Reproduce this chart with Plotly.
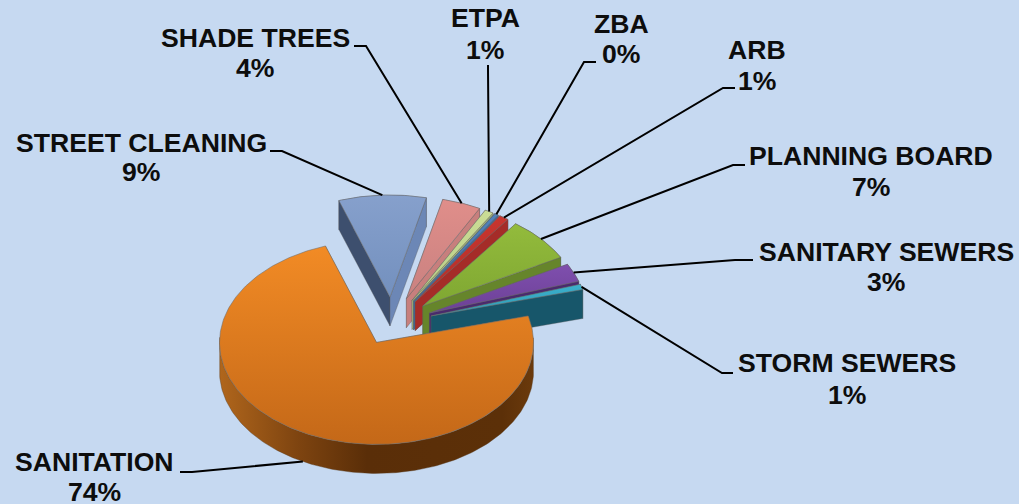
import numpy as np
import plotly.graph_objects as go

# ---- data (clockwise from the right-hand edge of SANITATION's gap) ----
categories = ["STREET CLEANING", "SHADE TREES", "ETPA", "ZBA", "ARB",
              "PLANNING BOARD", "SANITARY SEWERS", "STORM SEWERS", "SANITATION"]
values = [9.0, 4.0, 0.9, 0.45, 1.0, 7.0, 2.9, 0.85, 73.9]
percent_labels = ["9%", "4%", "1%", "0%", "1%", "7%", "3%", "1%", "74%"]

# ---- styles ----
top_colors = [("#86A0CC", "#7390BE"), ("#E08E8A", "#C98180"), ("#CBDD96", "#B9CC84"),
              ("#4F81BD", "#4676AE"), ("#C8352F", "#B32F2A"), ("#93BB3C", "#7FA732"),
              ("#7F4FAE", "#6C4096"), ("#3BB0CC", "#2F9DB8"), ("#F28B25", "#C46818")]
wall_lower = ["#6C87B6", "#C77F7D", "#A9B87A", "#3E6B9E", "#A52C28", "#66852B", "#4A2A6D", "#17566A", "#B5611A"]
wall_left = ["#3D4F6E", "#B8807E", "#A0B070", "#3A6595", "#A32B27", "#7A9C30", "#4A2A6D", "#17566A", "#B5611A"]
arc_wall = [("#55698F", "#6C87B6"), ("#B77472", "#A86A68"), ("#A0B070", "#A0B070"),
            ("#3A6595", "#3A6595"), ("#8C2723", "#8C2723"), ("#5F7D2A", "#5F7D2A"),
            ("#4A2A6D", "#4A2A6D"), ("#17566A", "#17566A"), ("#A85F18", "#5A2E08")]

# ---- label layout ----
name_pos = [(141, 143), (255, 38), (485, 18), (621, 24), (757, 50), (871, 156), (886, 252), (847, 363), (94, 462)]
pct_pos = [(141, 172), (255, 68), (485, 50), (621, 54), (757, 81), (871, 187), (886, 282), (847, 395), (94, 492)]
leader_start = [(270, 151), (354, 46), (488, 65), (596, 62), (735, 88), (745, 165), (753, 260), (733, 373), (180, 472)]
leader_elbow = [(282, 151), (366, 46), (488, 70), (584, 62), (723, 88), (733, 165), (735, 260), (722, 373), (192, 472)]

# ---- pie geometry (axis units equal page pixels) ----
CX, CY, RX, RY, DEPTH = 392, 323.5, 157, 102, 29
explode = [0.26, 0.26, 0.26, 0.26, 0.26, 0.26, 0.26, 0.26, 0.21]
START_DEG = 109  # where the first slice starts, going clockwise

fig = go.Figure()


def poly(x, y, grad_type, c_low, c_high, edge="rgba(90,90,90,0.35)"):
    fig.add_trace(go.Scatter(
        x=list(x) + [x[0]], y=list(y) + [y[0]], mode="lines", fill="toself",
        line=dict(color=edge, width=1), hoverinfo="skip", showlegend=False,
        fillgradient=dict(type=grad_type, colorscale=[[0, c_low], [1, c_high]]),
    ))


total = sum(values)
edges = START_DEG - np.cumsum([0] + values) * 360 / total
mids = []
for i, v in enumerate(values):
    a0, a1 = np.radians(edges[i]), np.radians(edges[i + 1])
    am = (a0 + a1) / 2
    mids.append(am)
    tx = CX + explode[i] * RX * np.cos(am)
    ty = CY - explode[i] * RY * np.sin(am)
    t = np.linspace(a0, a1, max(8, int(abs(a1 - a0) * 60)))
    ax = tx + RX * np.cos(t)
    ay = ty - RY * np.sin(t)
    # outer wall
    if categories[i] == "SANITATION":
        keep = np.sin(t) < 0.05
        wx = np.concatenate([ax[keep], ax[keep][::-1]])
        wy = np.concatenate([ay[keep], ay[keep][::-1] + DEPTH])
        fig.add_trace(go.Scatter(
            x=list(wx) + [wx[0]], y=list(wy) + [wy[0]], mode="lines", fill="toself",
            line=dict(color="rgba(90,60,30,0.4)", width=1), hoverinfo="skip", showlegend=False,
            fillgradient=dict(type="horizontal", colorscale=[
                [0, "#B0661C"], [0.25, "#7E4410"], [0.47, "#5A2E08"], [0.9, "#5C3008"], [1, "#6B3A0C"]]),
        ))
    else:
        wx = np.concatenate([ax, ax[::-1]])
        wy = np.concatenate([ay, ay[::-1] + DEPTH])
        poly(wx, wy, "horizontal", arc_wall[i][0], arc_wall[i][1])
    # radial cut walls
    poly([tx, ax[0], ax[0], tx], [ty, ay[0], ay[0] + DEPTH, ty + DEPTH], "vertical", wall_left[i], wall_left[i])
    poly([tx, ax[-1], ax[-1], tx], [ty, ay[-1], ay[-1] + DEPTH, ty + DEPTH], "vertical", wall_lower[i], wall_lower[i])
    # top face (gradient runs bottom -> top)
    poly([tx] + list(ax), [ty] + list(ay), "vertical", top_colors[i][1], top_colors[i][0],
         edge="rgba(110,110,110,0.55)")

# leader lines end on the rim at each slice's mid-angle
for i, am in enumerate(mids):
    tx = CX + explode[i] * RX * np.cos(am)
    ty = CY - explode[i] * RY * np.sin(am)
    ex = tx + RX * np.cos(am)
    ey = ty - RY * np.sin(am) + (DEPTH if np.sin(am) < 0 else 0)
    fig.add_trace(go.Scatter(
        x=[leader_start[i][0], leader_elbow[i][0], ex],
        y=[leader_start[i][1], leader_elbow[i][1], ey],
        mode="lines", line=dict(color="#000000", width=2), hoverinfo="skip", showlegend=False))

font = dict(family="Liberation Sans, Arial, sans-serif", size=26.6, color="#0D0D0D")
ann = []
for name, pct, np_, pp in zip(categories, percent_labels, name_pos, pct_pos):
    ann.append(dict(x=np_[0], y=np_[1], text=f"<b>{name}</b>", showarrow=False, font=font, xref="x", yref="y"))
    ann.append(dict(x=pp[0], y=pp[1], text=f"<b>{pct}</b>", showarrow=False, font=font, xref="x", yref="y"))

fig.update_layout(
    width=1019, height=504, margin=dict(l=0, r=0, t=0, b=0),
    paper_bgcolor="#C6D9F1", plot_bgcolor="#C6D9F1", showlegend=False,
    xaxis=dict(range=[0, 1019], visible=False, fixedrange=True),
    yaxis=dict(range=[504, 0], visible=False, fixedrange=True),
    annotations=ann,
)
fig.write_html("out.html", config={"displayModeBar": False},
               post_script="document.body.style.margin='0';document.documentElement.style.overflow='hidden';document.body.style.background='#C6D9F1';")
